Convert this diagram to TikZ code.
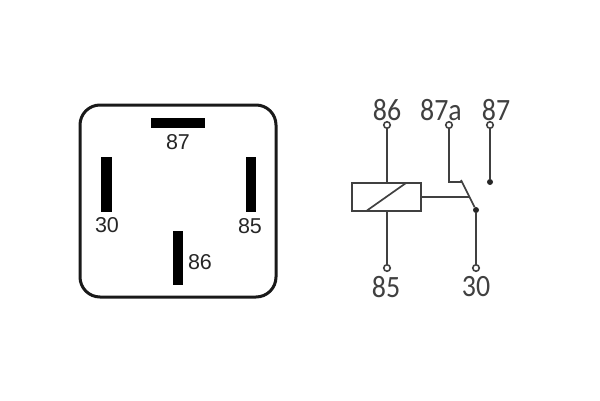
\documentclass[tikz,border=0pt]{standalone}
\usepackage{fontspec}
\setmainfont{Liberation Sans}
\newfontfamily\thinfont{Carlito}
\usetikzlibrary{positioning}
\tikzset{
  pin/.style={draw=none, fill=black, inner sep=0pt, outer sep=0pt},
  pinlabel/.style={inner sep=0pt, text=black!85, font=\fontsize{21.5}{21.5}\selectfont},
  termlabel/.style={inner sep=0pt, text=black!75, xscale=0.9, font=\thinfont\fontsize{31}{31}\selectfont},
  term/.style={circle, draw=black!75, line width=1.6pt, fill=white, inner sep=0pt, minimum size=6.5pt},
  contact/.style={circle, fill=black!85, inner sep=0pt, minimum size=6pt},
  wire/.style={draw=black!75, line width=1.7pt}
}
\begin{document}
\begin{tikzpicture}[x=1pt, y=-1pt]
\useasboundingbox (0, 0) rectangle (600, 400);
% relay base
\node[draw=black!90, line width=3pt, rounded corners=20pt, minimum width=196pt, minimum height=192pt, inner sep=0pt] (base) at (178, 201) {};
\node[pin, minimum width=54pt, minimum height=10pt] (pin87) at (178, 123) {};
\node[pin, minimum width=10.5pt, minimum height=55pt] (pin30) at (106.5, 184.5) {};
\node[pin, minimum width=10.5pt, minimum height=55pt] (pin85) at (251, 184.5) {};
\node[pin, minimum width=10.5pt, minimum height=54pt] (pin86) at (178, 258) {};
% pin numbers
\node[pinlabel] (lab87) at (178, 142) {87};
\node[pinlabel] (lab30) at (107, 225) {30};
\node[pinlabel] (lab85) at (250, 226) {85};
\node[pinlabel] (lab86) at (200, 262) {86};
% coil
\node[draw=black!75, line width=1.7pt, minimum width=69pt, minimum height=27.5pt, inner sep=0pt] (coil) at (386.5, 197) {};
\coordinate (slashA) at (367, 210.5);
\coordinate (slashB) at (406, 183);
\draw[wire] (slashA) -- (slashB);
% terminals
\foreach \name/\x/\y in {t86/387/125, t87a/449/125, t87/490/125, t85/387/268, t30/476/268} {
    \node[term] (\name) at (\x, \y) {};
}
\node[contact] (c87) at (490, 182) {};
\node[contact] (c30) at (476, 210) {};
\coordinate (c87a) at (462, 182);
\coordinate (armtop) at (461, 180);
\coordinate (armmid) at (469, 197);
% wires
\draw[wire] (t86) -- (coil.north -| t86);
\draw[wire] (t85) -- (coil.south -| t85);
\draw[wire] (t87) -- (c87);
\draw[wire] (t30) -- (c30);
\draw[wire] (t87a) |- (c87a);
\draw[wire] (armtop) -- (c30);
\draw[wire] (coil.east) -- (armmid);
% terminal numbers
\node[termlabel] (lab86b) at (387, 110) {86};
\node[termlabel] (lab87a) at (441, 110) {87a};
\node[termlabel] (lab87b) at (496, 110) {87};
\node[termlabel] (lab85b) at (386, 287) {85};
\node[termlabel] (lab30b) at (476, 287) {30};
\end{tikzpicture}
\end{document}
